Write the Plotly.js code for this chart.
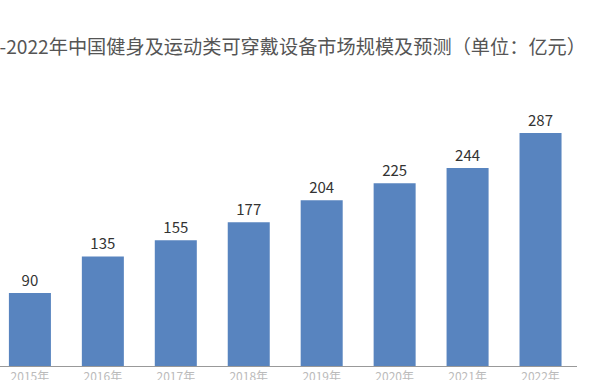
<!DOCTYPE html>
<html><head><meta charset="utf-8">
<script src="https://cdn.plot.ly/plotly-3.0.1.min.js"></script>
<style>html,body{margin:0;padding:0;background:#fff;overflow:hidden}</style>
</head><body>
<div id="chart" style="width:590px;height:380px"></div>
<script>
const years = ["2015年","2016年","2017年","2018年","2019年","2020年","2021年","2022年"];
const values = [90,135,155,177,204,225,244,287];
const titleText = "2015-2022年中国健身及运动类可穿戴设备市场规模及预测（单位：亿元）";

const trace = {
  type: "bar", x: years, y: values,
  marker: {color: "#5884bf"},
  text: values.map(String), textposition: "outside", cliponaxis: false,
  textfont: {family: "Noto Sans CJK SC, Noto Sans, sans-serif", size: 15, color: "#333"},
  hoverinfo: "none"
};
const layout = {
  width: 590, height: 380,
  margin: {l: 0, r: 13, t: 100, b: 14},
  paper_bgcolor: "#fff", plot_bgcolor: "#fff",
  bargap: 0.424,
  showlegend: false,
  title: {text: titleText, x: 586/590, xanchor: "right", y: 1 - 47/380, yanchor: "middle",
          font: {family: "Noto Sans CJK SC, sans-serif", size: 19.2, color: "#555"}},
  xaxis: {type: "category", range: [-0.41, 7.5], showline: true, linecolor: "#999", linewidth: 1,
          ticks: "", showgrid: false, zeroline: false,
          tickfont: {family: "Noto Sans CJK SC, sans-serif", size: 12, color: "#bbb"}},
  yaxis: {range: [0, 327.6], visible: false, showgrid: false, zeroline: false}
};
Plotly.newPlot("chart", [trace], layout, {staticPlot: true, displayModeBar: false});
</script>
</body></html>
